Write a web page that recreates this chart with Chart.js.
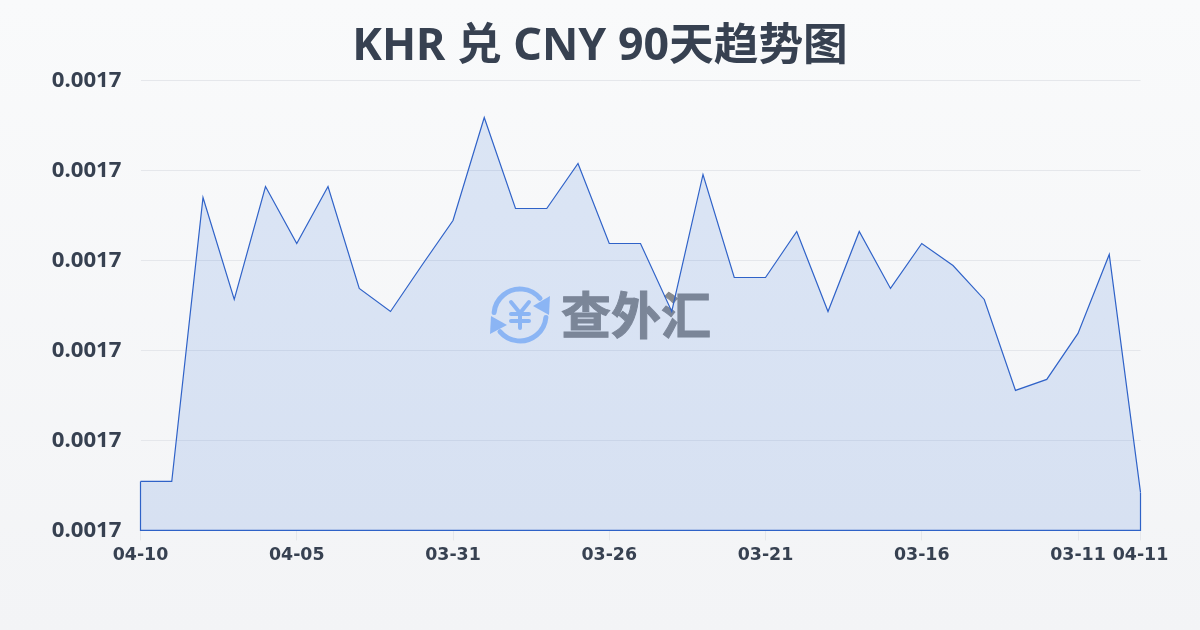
<!DOCTYPE html>
<html><head><meta charset="utf-8">
<script src="https://cdn.jsdelivr.net/npm/chart.js@4"></script>
<style>
html,body{margin:0;padding:0;width:1200px;height:630px;overflow:hidden;background:linear-gradient(180deg,#f9fafb 0%,#f3f4f6 100%)}
#w{position:absolute;left:0;top:0;width:1200px;height:630px}
</style></head><body>
<div id="w"><canvas id="c" width="1200" height="630"></canvas></div>
<script>
const titleText = 'KHR 兑 CNY 90天趋势图';
const watermarkText = '查外汇';
const categories = ['04-10','04-09','04-08','04-07','04-06','04-05','04-04','04-03','04-02','04-01','03-31','03-30','03-29','03-28','03-27','03-26','03-25','03-24','03-23','03-22','03-21','03-20','03-19','03-18','03-17','03-16','03-15','03-14','03-13','03-12','03-11','03-10','04-11'];
const rates = [0.00168544,0.00168544,0.00171700,0.00170567,0.00171822,0.00171189,0.00171822,0.00170689,0.00170433,0.00170944,0.00171444,0.00172589,0.00171578,0.00171578,0.00172078,0.00171189,0.00171189,0.00170433,0.00171956,0.00170811,0.00170811,0.00171322,0.00170433,0.00171322,0.00170689,0.00171189,0.00170944,0.00170567,0.00169556,0.00169678,0.00170189,0.00171067,0.00168422];
const yTicks = [0.00168,0.00169,0.00170,0.00171,0.00172,0.00173];
const shownTickIndex = [0,5,10,15,20,25,30,32];

const series = rates.map((y,x)=>({x,y}));
const last = rates.length-1;
const outline = [{x:last,y:rates[last]},{x:last,y:yTicks[0]},{x:0,y:yTicks[0]},{x:0,y:rates[0]}];
const ink = '#374151', lineBlue = '#2f62c8';

const watermark = {
  id:'watermark',
  beforeDatasetsDraw(chart){
    const g = chart.ctx;
    g.save();
    const cx=520, cy=315, r=26;
    g.strokeStyle='#9bc1fa'; g.fillStyle='#9bc1fa'; g.lineWidth=5; g.lineCap='round';
    g.beginPath(); g.arc(cx,cy,r,Math.PI*1.03,Math.PI*1.78); g.stroke();
    g.beginPath(); g.arc(cx,cy,r,Math.PI*0.03,Math.PI*0.78); g.stroke();
    g.beginPath(); g.moveTo(550,296); g.lineTo(549,315); g.lineTo(533,306); g.closePath(); g.fill();
    g.beginPath(); g.moveTo(490,334); g.lineTo(491,316); g.lineTo(507,325); g.closePath(); g.fill();
    g.lineWidth=4;
    g.beginPath(); g.moveTo(511,302); g.lineTo(520,313); g.lineTo(529,302); g.moveTo(520,313); g.lineTo(520,328); g.moveTo(511,314); g.lineTo(529,314); g.moveTo(511,321); g.lineTo(529,321); g.stroke();
    g.fillStyle='#888a8e'; g.strokeStyle='#888a8e'; g.lineWidth=1; g.textAlign='left'; g.textBaseline='middle';
    g.font='700 50px "Noto Sans CJK SC"';
    g.fillText(watermarkText,561,315);
    g.strokeText(watermarkText,561,315);
    g.restore();
  }
};

new Chart(document.getElementById('c'),{
  type:'line',
  plugins:[watermark],
  data:{datasets:[
    {label:'KHR/CNY',data:series,borderColor:lineBlue,borderWidth:1.2,backgroundColor:'rgba(47,110,215,0.145)',fill:'start',pointRadius:0,tension:0,clip:false},
    {label:'outline',data:outline,borderColor:lineBlue,borderWidth:1.2,fill:false,pointRadius:0,tension:0,clip:false}
  ]},
  options:{
    responsive:false,animation:false,
    layout:{padding:0},
    plugins:{
      legend:{display:false},tooltip:{enabled:false},
      title:{display:true,text:titleText,color:ink,font:{family:'"Noto Sans","Noto Sans CJK SC"',size:44.7,weight:'700',lineHeight:1.2},padding:{top:20,bottom:6.9}}
    },
    scales:{
      x:{type:'linear',min:0,max:last,
        afterBuildTicks(s){s.ticks=shownTickIndex.map(value=>({value}));},
        afterFit(s){s.height=99.6;},
        grid:{drawOnChartArea:false,drawTicks:true,tickLength:10,color:'#e5e7eb'},
        border:{display:false},
        ticks:{autoSkip:false,maxRotation:0,padding:4.5,color:ink,font:{family:'"DejaVu Sans"',size:17.4,weight:'700'},callback:v=>categories[v]}
      },
      y:{min:yTicks[0],max:yTicks[yTicks.length-1],
        afterBuildTicks(s){s.ticks=yTicks.map(value=>({value}));},
        afterFit(s){s.width=140.5;},
        grid:{drawTicks:false,color:'#e5e7eb'},
        border:{display:false},
        ticks:{padding:19,color:ink,font:{family:'"Noto Sans"',size:22.2,weight:'700'},callback:v=>v.toFixed(4)}
      },
      gutter:{position:'right',display:true,
        afterFit(s){s.width=59.5;},
        grid:{display:false},border:{display:false},ticks:{display:false}
      }
    }
  }
});
</script></body></html>
